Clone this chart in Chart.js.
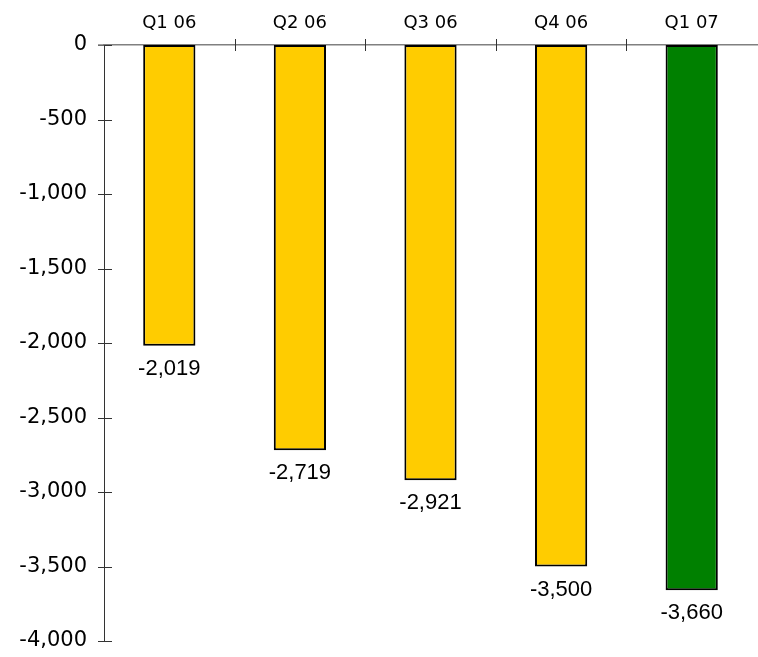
<!DOCTYPE html>
<html>
<head>
<meta charset="utf-8">
<script src="https://cdn.jsdelivr.net/npm/chart.js@4/dist/chart.umd.min.js"></script>
<style>
  html, body { margin: 0; padding: 0; background: #fff; }
  #wrap { width: 758px; height: 657px; }
</style>
</head>
<body>
<div id="wrap"><canvas id="chart"></canvas></div>
<script>
const quarters = ['Q1 06', 'Q2 06', 'Q3 06', 'Q4 06', 'Q1 07'];
const values = [-2019, -2719, -2921, -3500, -3660];
const barColors = ['#FFCC00', '#FFCC00', '#FFCC00', '#FFCC00', '#008000'];
const yMin = -4000;
const yMax = 0;
const yStep = 500;

// value labels under each bar + tick marks crossing the axes
const extras = {
    id: 'extras',
    afterDatasetsDraw(chart) {
        const ctx = chart.ctx;
        const meta = chart.getDatasetMeta(0);
        ctx.save();
        ctx.fillStyle = '#000';
        ctx.font = '22px "Liberation Sans", Arial, sans-serif';
        ctx.textAlign = 'center';
        ctx.textBaseline = 'top';
        meta.data.forEach((bar, i) => {
            ctx.fillText(values[i].toLocaleString('en-US'), bar.x, bar.y + 12);
        });

        const y = chart.scales.y;
        const x = chart.scales.x;
        ctx.strokeStyle = '#333';
        ctx.lineWidth = 1;
        y.ticks.forEach(t => {
            const py = Math.round(y.getPixelForValue(t.value)) + 0.5;
            ctx.beginPath();
            ctx.moveTo(y.right - 6, py);
            ctx.lineTo(y.right + 8, py);
            ctx.stroke();
        });
        for (let i = 1; i < quarters.length; i++) {
            const px = Math.round((x.getPixelForValue(i - 1) + x.getPixelForValue(i)) / 2) + 0.5;
            ctx.beginPath();
            ctx.moveTo(px, x.bottom - 6);
            ctx.lineTo(px, x.bottom + 6);
            ctx.stroke();
        }
        // x axis line runs a bit left of the y axis
        ctx.strokeStyle = '#808080';
        ctx.lineWidth = 1.5;
        ctx.beginPath();
        ctx.moveTo(y.right - 6, x.bottom);
        ctx.lineTo(y.right, x.bottom);
        ctx.stroke();
        ctx.restore();
    }
};

new Chart(document.getElementById('chart'), {
    type: 'bar',
    data: {
        labels: quarters,
        datasets: [{
            data: values,
            backgroundColor: barColors,
            borderColor: '#000',
            borderWidth: 2,
            borderSkipped: false,
            barPercentage: 0.4,
            categoryPercentage: 1
        }]
    },
    options: {
        responsive: true,
        maintainAspectRatio: false,
        animation: false,
        layout: { padding: { left: 0, right: 1, top: 0, bottom: 16 } },
        plugins: {
            legend: { display: false },
            tooltip: { enabled: false }
        },
        scales: {
            x: {
                position: 'top',
                grid: { display: false },
                border: { display: true, color: '#808080', width: 1.5 },
                ticks: {
                    color: '#000',
                    padding: 3,
                    font: { family: '"DejaVu Sans", Tahoma, sans-serif', size: 18 }
                },
                afterFit(scale) {
                    scale.height = 45;
                    scale.paddingLeft = 0;
                    scale.paddingRight = 0;
                }
            },
            y: {
                min: yMin,
                max: yMax,
                grid: { display: false },
                border: { display: true, color: '#333', width: 1 },
                ticks: {
                    stepSize: yStep,
                    color: '#000',
                    padding: 9,
                    font: { family: '"DejaVu Sans", Tahoma, sans-serif', size: 21 },
                    callback: v => v.toLocaleString('en-US')
                },
                afterFit(scale) {
                    scale.width = 104;
                    scale.paddingTop = 0;
                    scale.paddingBottom = 0;
                }
            }
        }
    },
    plugins: [extras]
});
</script>
</body>
</html>
